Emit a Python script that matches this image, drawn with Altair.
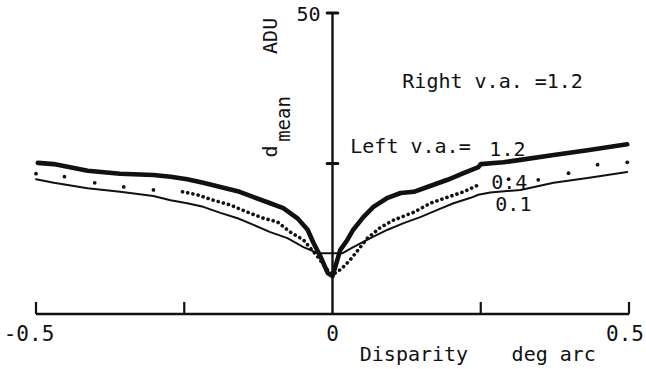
import altair as alt
import pandas as pd

# Curve for left v.a. = 1.2 (heavy line)
thick_x = [-0.497, -0.470, -0.413, -0.358, -0.302, -0.273, -0.245, -0.218, -0.189,
           -0.160, -0.133, -0.105, -0.083, -0.059, -0.042, -0.032, -0.020, -0.008,
           0.0, 0.013, 0.025, 0.035, 0.052, 0.069, 0.093, 0.115, 0.137, 0.160,
           0.194, 0.221, 0.246, 0.250, 0.288, 0.317, 0.373, 0.430, 0.497]
thick_y = [25.1, 24.9, 23.8, 23.3, 23.1, 22.8, 22.4, 21.8, 21.1,
           20.4, 19.4, 18.4, 17.6, 15.9, 14.0, 11.8, 9.5, 6.8,
           6.3, 10.6, 12.3, 14.0, 16.1, 17.8, 19.3, 20.1, 20.3, 21.1,
           22.3, 23.4, 24.4, 24.9, 25.2, 25.6, 26.4, 27.2, 28.2]

# Curve for left v.a. = 0.1 (light line)
thin_x = [-0.500, -0.470, -0.413, -0.358, -0.302, -0.273, -0.245, -0.218, -0.189,
          -0.160, -0.133, -0.105, -0.076, -0.049, -0.025, 0.017, 0.035, 0.064,
          0.093, 0.120, 0.148, 0.177, 0.204, 0.233, 0.246, 0.266, 0.317, 0.373,
          0.430, 0.497]
thin_y = [22.4, 21.8, 20.9, 20.3, 19.6, 18.9, 18.4, 17.8, 16.8,
          15.9, 14.8, 13.6, 12.6, 11.1, 10.1, 10.1, 11.1, 12.6,
          14.0, 15.1, 16.1, 17.3, 18.4, 19.3, 19.8, 20.2, 20.6, 21.8,
          22.6, 23.6]

# Curve for left v.a. = 0.4: closely spaced dots near zero disparity
dense_x = [-0.253, -0.228, -0.201, -0.172, -0.143, -0.116, -0.093, -0.071, -0.049,
           -0.025, -0.010, 0.0, 0.015, 0.030, 0.059, 0.081, 0.103, 0.137, 0.165,
           0.194, 0.221, 0.245]
dense_y = [20.3, 19.8, 18.9, 18.1, 16.9, 15.9, 15.3, 13.6, 12.3,
           9.5, 7.5, 6.5, 7.5, 9.0, 12.6, 14.4, 15.6, 16.9, 18.4,
           19.4, 20.3, 21.4]

# ... and widely spaced dots further out
sparse_x = [-0.500, -0.452, -0.401, -0.352, -0.302, 0.297, 0.347, 0.398, 0.447, 0.497]
sparse_y = [23.3, 22.8, 21.8, 21.1, 20.6, 22.4, 22.3, 23.4, 24.8, 25.2]

x_tick_values = [-0.5, -0.25, 0.25, 0.5]
y_tick_values = [25, 50]

FONT = "DejaVu Sans Mono"
INK = "#111111"

xs = alt.Scale(domain=[-0.5, 0.5])
ys = alt.Scale(domain=[0, 50])


def X(field="x"):
    return alt.X(f"{field}:Q", scale=xs, axis=None)


def Y(field="y"):
    return alt.Y(f"{field}:Q", scale=ys, axis=None)


thick_df = pd.DataFrame({"x": thick_x, "y": thick_y})
thin_df = pd.DataFrame({"x": thin_x, "y": thin_y})
dense_df = pd.DataFrame({"x": dense_x, "y": dense_y})
sparse_df = pd.DataFrame({"x": sparse_x, "y": sparse_y})

# Axes drawn as rules in data space
x_axis = alt.Chart(pd.DataFrame({"x": [-0.5], "x2": [0.5], "y": [0]})).mark_rule(
    color=INK, strokeWidth=2.4
).encode(x=X(), x2="x2:Q", y=Y())

y_axis = alt.Chart(pd.DataFrame({"x": [0], "y": [0], "y2": [50]})).mark_rule(
    color=INK, strokeWidth=2.4
).encode(x=X(), y=Y(), y2="y2:Q")

x_ticks = alt.Chart(pd.DataFrame({"x": x_tick_values, "y": [0] * 4, "y2": [2] * 4})).mark_rule(
    color=INK, strokeWidth=2.2
).encode(x=X(), y=Y(), y2="y2:Q")

y_ticks = alt.Chart(
    pd.DataFrame({"x": [-0.009] * 2, "x2": [0.009] * 2, "y": y_tick_values})
).mark_rule(color=INK, strokeWidth=3, strokeCap="round").encode(x=X(), x2="x2:Q", y=Y())

# Data curves
thick = alt.Chart(thick_df).mark_line(
    color=INK, strokeWidth=4.6, strokeJoin="round", strokeCap="round"
).encode(x=X(), y=Y(), order="x:Q")

thin = alt.Chart(thin_df).mark_line(
    color=INK, strokeWidth=2.0, strokeJoin="round", strokeCap="round"
).encode(x=X(), y=Y(), order="x:Q")

dense = alt.Chart(dense_df).mark_line(
    color=INK, strokeWidth=3.6, strokeCap="round", strokeDash=[0.1, 5.2]
).encode(x=X(), y=Y(), order="x:Q")

sparse = alt.Chart(sparse_df).mark_circle(color=INK, size=14, opacity=1).encode(x=X(), y=Y())


def label(text, x, y, size=20, **kw):
    return alt.Chart(pd.DataFrame({"x": [x], "y": [y], "t": [text]})).mark_text(
        font=FONT, fontSize=size, color=INK, **kw
    ).encode(x=X(), y=Y(), text="t:N")


texts = [
    # tick labels along the disparity axis
    label("-0.5", -0.5, 0, size=21, align="center", baseline="middle", dy=21, dx=-7),
    label("0", 0.0, 0, size=21, align="center", baseline="middle", dy=21),
    label("0.5", 0.5, 0, size=21, align="center", baseline="middle", dy=21, dx=-4),
    # ordinate
    label("50", 0, 50, align="right", baseline="middle", dx=-12, dy=2),
    label("ADU", -0.1045, 46.2, angle=270, align="center", baseline="middle"),
    label("d", -0.1045, 27.0, angle=270, align="center", baseline="middle"),
    label("mean", -0.081, 32.4, size=19, angle=270, align="center", baseline="middle"),
    # condition annotations
    label("Right v.a. =1.2", 0.270, 38.5, align="center", baseline="middle"),
    label("Left v.a.=", 0.1315, 27.7, align="center", baseline="middle"),
    label("1.2", 0.295, 27.2, align="center", baseline="middle"),
    label("0.4", 0.298, 21.8, align="center", baseline="middle"),
    label("0.1", 0.305, 18.1, align="center", baseline="middle"),
    # abscissa title
    label("Disparity", 0.046, -6.8, align="left", baseline="middle"),
    label("deg arc", 0.302, -6.8, align="left", baseline="middle"),
]

chart = alt.layer(
    x_axis, y_axis, x_ticks, y_ticks, thin, dense, sparse, thick, *texts
).properties(
    width=593,
    height=301,
    autosize=alt.AutoSizeParams(type="none"),
    padding={"left": 36, "top": 13, "right": 17, "bottom": 55},
    background="white",
).configure_view(stroke=None)

chart.save("out.html", embed_options={"renderer": "svg", "actions": False})
